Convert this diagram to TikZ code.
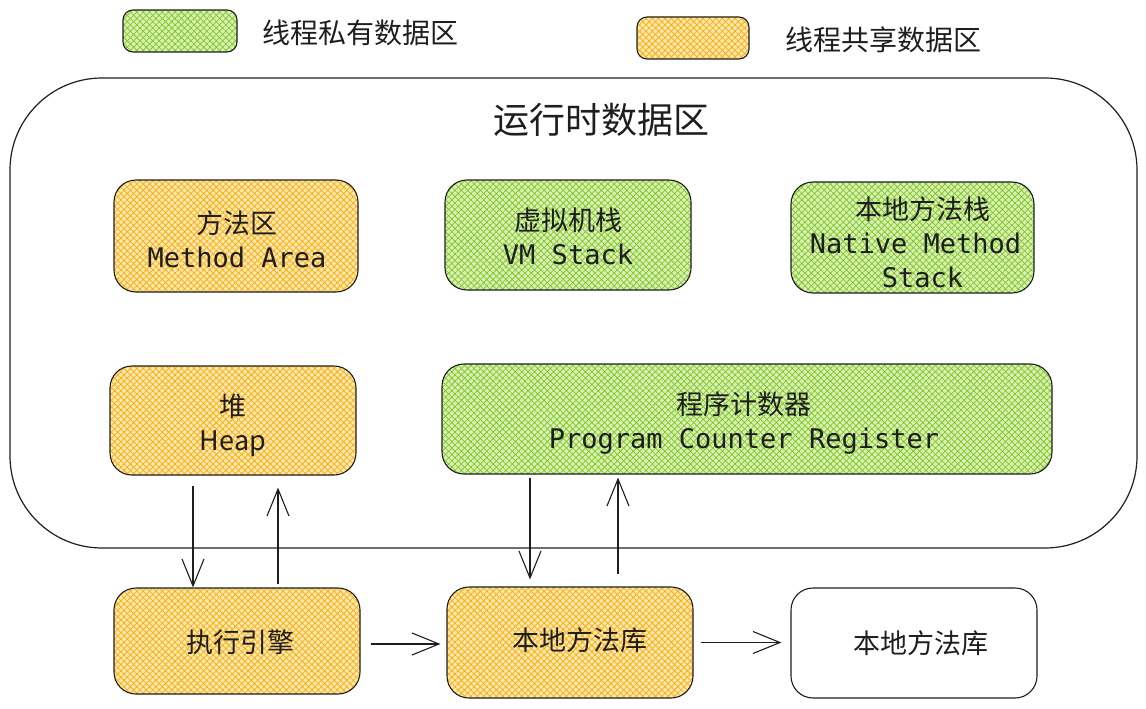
\documentclass[tikz,border=0pt]{standalone}
\usepackage{fontspec}
\newfontfamily\cjk{Noto Sans CJK SC}
\newfontfamily\mono{DejaVu Sans Mono}
\usetikzlibrary{patterns.meta,arrows.meta,calc}
\definecolor{ink}{HTML}{1E1E1E}
\definecolor{grn}{HTML}{82C91E}
\definecolor{org}{HTML}{FAB005}
\tikzset{
  box/.style={draw=ink,line width=1.1pt,rounded corners=22pt,inner sep=0pt},
  gbox/.style={box,preaction={fill=grn!30},pattern={Hatch[angle=45,distance=4.5pt,line width=0.75pt]},pattern color=grn},
  obox/.style={box,preaction={fill=org!30},pattern={Hatch[angle=45,distance=4.5pt,line width=0.75pt]},pattern color=org},
  wbox/.style={box,fill=white},
  lbl/.style={inner sep=0pt,text=ink,align=center,font=\cjk\fontsize{27}{34}\selectfont},
  arr/.style={draw=ink,line width=1.1pt,-{Straight Barb[length=27pt,width=22pt,line width=1.1pt]}},
}
\begin{document}
\begin{tikzpicture}[x=1pt,y=-1pt]
\useasboundingbox (0,0) rectangle (1146,709);
% legend
\node[gbox,minimum width=114pt,minimum height=42pt,rounded corners=10pt] (lg) at (180,31) {};
\node[lbl,anchor=west,font=\cjk\fontsize{28}{34}\selectfont] (lgt) at (262,33) {线程私有数据区};
\node[obox,minimum width=112pt,minimum height=42pt,rounded corners=10pt] (lo) at (693,38) {};
\node[lbl,anchor=west,font=\cjk\fontsize{28}{34}\selectfont] (lot) at (785,40) {线程共享数据区};
% runtime data area
\node[draw=ink,line width=1.2pt,rounded corners=92pt,minimum width=1127pt,minimum height=470pt,inner sep=0pt] (rt) at (573.5,313) {};
\node[lbl,font=\cjk\fontsize{36}{40}\selectfont] (rtt) at (601,120) {运行时数据区};
% regions
\node[obox,minimum width=244pt,minimum height=112pt] (ma) at (236,236) {};
\node[lbl] (mat) at ([xshift=1pt,yshift=-3pt]ma.center) {方法区\\{\mono Method Area}};
\node[gbox,minimum width=246pt,minimum height=110pt] (vm) at (568,235) {};
\node[lbl] (vmt) at ([yshift=-1pt]vm.center) {虚拟机栈\\{\mono VM Stack}};
\node[gbox,minimum width=243pt,minimum height=111pt] (ns) at (912.5,237.5) {};
\node[lbl] (nst) at ([xshift=3pt,yshift=-5pt]ns.center) {\hspace*{14pt}本地方法栈\\{\mono Native Method}\\\hspace*{14pt}{\mono Stack}};
\node[obox,minimum width=246pt,minimum height=109pt] (hp) at (233,420.5) {};
\node[lbl] (hpt) at ([yshift=-5pt]hp.center) {堆\\Heap};
\node[gbox,minimum width=610pt,minimum height=110pt] (pc) at (747,419) {};
\node[lbl] (pct) at ([xshift=-3pt,yshift=-4pt]pc.center) {程序计数器\\{\mono Program Counter Register}};
% bottom
\node[obox,minimum width=246pt,minimum height=106pt] (ee) at (237,641) {};
\node[lbl] (eet) at ([xshift=3pt,yshift=-1pt]ee.center) {执行引擎};
\node[obox,minimum width=246pt,minimum height=111pt] (nl) at (570,642.5) {};
\node[lbl] (nlt) at ([xshift=10pt,yshift=2pt]nl.center) {本地方法库};
\node[wbox,minimum width=246pt,minimum height=110pt] (nw) at (914,643) {};
\node[lbl] (nwt) at ([xshift=7pt]nw.center) {本地方法库};
% arrows
\draw[arr] ([xshift=-40pt,yshift=-10pt]hp.south) -- ([xshift=-40pt]hp.south |- ee.north);
\draw[arr] ([xshift=45pt,yshift=3pt]hp.south |- ee.north) -- ([xshift=45pt,yshift=-12pt]hp.south);
\draw[arr] ([xshift=-217pt,yshift=-3pt]pc.south) -- ([xshift=-217pt,yshift=7pt]pc.south |- nl.north);
\draw[arr] ([xshift=-129pt,yshift=12pt]pc.south |- nl.north) -- ([xshift=-129pt,yshift=-3pt]pc.south);
\draw[arr] ([xshift=10pt,yshift=-3pt]ee.east) -- ([xshift=-6pt,yshift=-3pt]ee.east -| nl.west);
\draw[arr] ([xshift=7pt]nl.east) -- ([xshift=-9pt]nl.east -| nw.west);
\end{tikzpicture}
\end{document}
